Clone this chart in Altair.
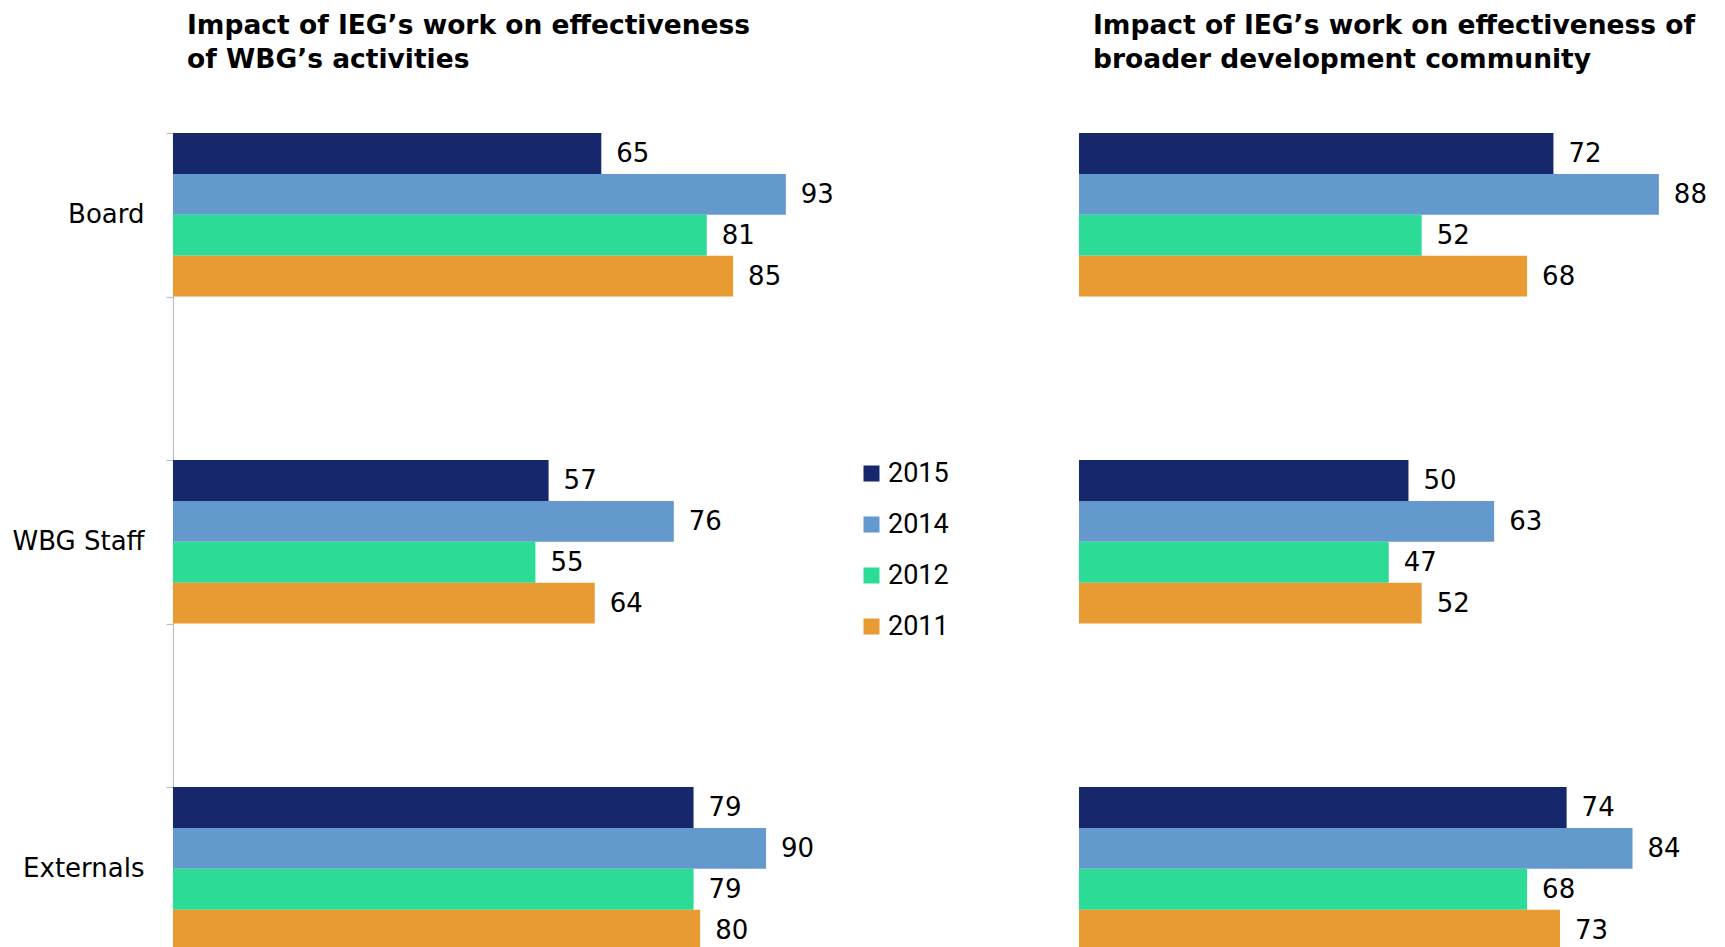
import altair as alt
import pandas as pd

groups = ["Board", "WBG Staff", "Externals"]
years = ["2015", "2014", "2012", "2011"]
colors = ["#16286b", "#6499cd", "#2bdb96", "#e89a33"]

# Left panel: impact on effectiveness of WBG's activities
wbg_board = [65, 93, 81, 85]
wbg_staff = [57, 76, 55, 64]
wbg_externals = [79, 90, 79, 80]

# Right panel: impact on effectiveness of broader development community
dev_board = [72, 88, 52, 68]
dev_staff = [50, 63, 47, 52]
dev_externals = [74, 84, 68, 73]

left_title = ["Impact of IEG\u2019s work on effectiveness", "of WBG\u2019s activities"]
right_title = ["Impact of IEG\u2019s work on effectiveness of", "broader development community"]

# spacer categories create the empty gaps between groups
y_domain = ["Board", " ", "WBG Staff", "  ", "Externals"]


def make_df(board, staff, externals):
    rows = []
    for g, vals in zip(groups, [board, staff, externals]):
        for yr, v in zip(years, vals):
            rows.append({"group": g, "year": yr, "value": v})
    return pd.DataFrame(rows)


df_left = make_df(wbg_board, wbg_staff, wbg_externals)
df_right = make_df(dev_board, dev_staff, dev_externals)

LABEL_FONT = "DejaVu Sans"


def panel(df, title_lines, show_axis, show_legend, title_offset):
    if show_axis:
        y_axis = alt.Axis(
            title=None, tickBand="extent", tickSize=7, labelPadding=22,
            labelFont=LABEL_FONT, labelFontSize=26, labelColor="#000000",
            domainColor="#b9c0c7", tickColor="#b9c0c7", domainWidth=1.2, tickWidth=1.2,
            minExtent=160, maxExtent=160,
        )
    else:
        y_axis = None
    y = alt.Y("group:N", scale=alt.Scale(domain=y_domain, paddingInner=0, paddingOuter=0), axis=y_axis)
    yoff = alt.YOffset("year:N", scale=alt.Scale(domain=years, paddingInner=0, paddingOuter=0))
    x = alt.X("value:Q", scale=alt.Scale(domain=[0, 95]), axis=None)
    if show_legend:
        legend = alt.Legend(
            title=None, orient="none", legendX=685, legendY=327, direction="vertical",
            symbolType="square", symbolSize=256, symbolStrokeWidth=0,
            labelFont="Roboto", labelFontSize=27, labelColor="#000000",
            labelOffset=3, rowPadding=23, padding=0,
        )
    else:
        legend = None
    color = alt.Color("year:N", scale=alt.Scale(domain=years, range=colors), legend=legend)
    bars = alt.Chart(df).mark_bar().encode(x=x, y=y, yOffset=yoff, color=color)
    text = alt.Chart(df).mark_text(
        align="left", baseline="middle", dx=15, dy=1,
        font=LABEL_FONT, fontSize=26, color="#000000",
    ).encode(x=x, y=y, yOffset=yoff, text="value:Q")
    return alt.layer(bars, text).properties(
        width=626, height=817.5,
        title=alt.Title(
            title_lines, anchor="start", frame="group", dx=14, offset=title_offset, lineHeight=34,
            font=LABEL_FONT, fontSize=26.5, fontWeight="bold", color="#000000",
        ),
    )


left = panel(df_left, left_title, True, True, 47)
right = panel(df_right, right_title, False, False, 60)

chart = (
    alt.hconcat(left, right, spacing=280, bounds="flush")
    .resolve_legend(color="independent")
    .resolve_scale(y="independent")
    .properties(padding={"left": 3, "top": 4, "right": 0, "bottom": 0})
    .configure_view(stroke=None)
)

chart.save("out.html", embed_options={"renderer": "svg", "actions": False})
